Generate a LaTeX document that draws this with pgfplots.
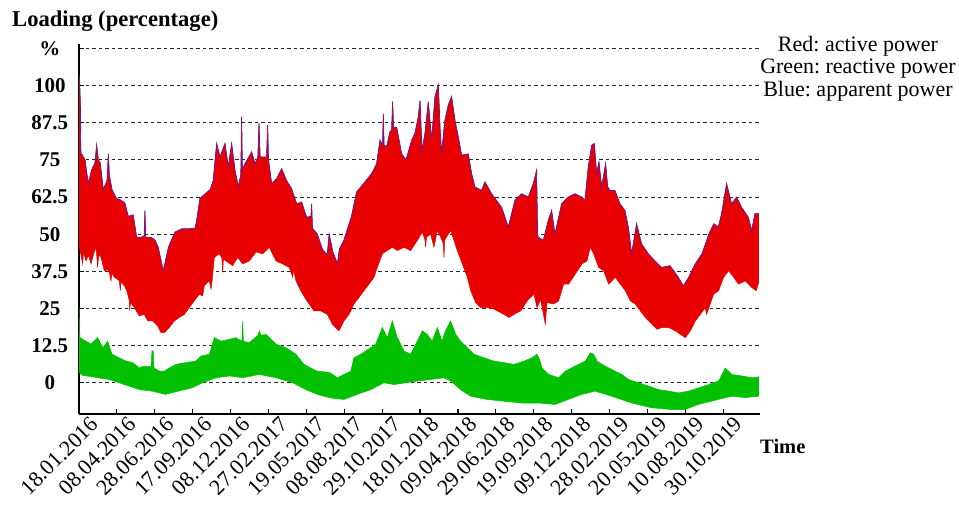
\documentclass[border=0pt]{standalone}
\usepackage{fontspec}
\setmainfont{Liberation Serif}
\usepackage{pgfplots}
\pgfplotsset{compat=1.18}
\usepackage{pgfplotstable}
\usepgfplotslibrary{fillbetween}
\definecolor{redc}{RGB}{232,0,0}
\definecolor{greenc}{RGB}{0,192,0}
\definecolor{bluec}{RGB}{40,40,230}
\frenchspacing

% red (active power) upper envelope
\pgfplotstableread{
x y
0 103.5
0.02 100
0.035 94
0.05 77
0.07 77
0.16 75
0.2 71
0.25 67
0.33 71.5
0.42 74
0.466 80
0.51 75
0.56 74
0.64 65
0.74 68
0.774 77
0.80 70
0.87 65
0.99 62
1.1 61.5
1.21 60.5
1.30 56
1.43 56.5
1.52 49
1.65 49
1.72 49.5
1.74 58
1.76 49
1.90 49
2.005 48
2.09 45.6
2.225 37.7
2.36 45.6
2.53 50.7
2.71 51.8
2.89 51.8
3.06 52
3.105 54.6
3.19 62
3.33 63.6
3.46 65
3.54 68
3.632 80.5
3.72 76
3.852 80.5
3.94 72.6
4.028 80.5
4.116 71.5
4.204 66
4.27 70
4.292 89.5
4.31 72
4.38 73.7
4.556 77.7
4.644 73.7
4.72 76
4.749 87.5
4.78 76
4.864 76
4.95 76
4.978 86.7
5.0 75
5.084 67
5.216 68.7
5.347 72
5.479 68
5.611 65.3
5.743 60.2
5.875 60.8
6.007 55.7
6.12 56
6.139 60.2
6.16 52
6.29 50
6.42 45
6.55 43
6.60 50
6.70 44
6.82 40
6.87 45
6.99 48
7.10 52.4
7.19 56
7.326 64.2
7.546 67.6
7.722 70.4
7.854 73.7
7.942 81.6
8.01 80
8.03 90.6
8.05 80
8.118 79.4
8.206 84.5
8.25 85
8.276 94.6
8.30 86
8.382 86
8.514 77
8.63 75
8.778 81.6
8.865 84
8.953 89.5
9.0 95
9.05 78
9.13 84
9.217 94.6
9.305 81.6
9.393 96.3
9.481 100.2
9.53 85
9.569 77
9.65 88
9.745 93.5
9.832 96.3
9.92 88.4
10.008 82.8
10.096 76.6
10.272 77
10.36 70.4
10.448 65.9
10.624 64.7
10.712 67.6
10.888 63.6
11.152 59
11.328 52.4
11.504 61.4
11.68 63.6
11.855 62.5
11.987 67
12.075 71.5
12.10 50
12.119 49
12.251 47.9
12.383 54.6
12.471 58
12.559 50
12.735 60.2
12.911 62.5
13.087 63.6
13.263 62.5
13.351 61.4
13.439 72.6
13.527 79.9
13.597 80.5
13.659 70.4
13.72 74.3
13.791 65.9
13.896 73.7
13.95 66
14.011 64.7
14.143 64.7
14.274 60.2
14.406 58
14.5 52
14.582 43.4
14.714 53.5
14.846 46.7
15.022 43.4
15.198 41
15.374 38.8
15.594 39.4
15.814 35.5
15.945 32.6
16.09 35.5
16.26 40
16.44 43.4
16.62 50
16.75 53.5
16.869 52.4
16.957 56.9
17.089 67
17.221 60.2
17.353 62.5
17.485 59
17.661 55.7
17.749 51.2
17.837 56.9
17.942 56.9
}\redup

% red lower envelope
\pgfplotstableread{
x y
0 45.6
0.01 45.6
0.097 40
0.12 44
0.185 41
0.25 43
0.317 40
0.40 44
0.449 45.6
0.493 38.8
0.52 43
0.58 42.2
0.668 37.7
0.75 38
0.8 37.2
0.844 34.3
0.87 37
0.932 35.5
1.0 35
1.064 34.3
1.09 31
1.11 34
1.196 32.7
1.26 31
1.328 27.6
1.34 24.2
1.36 27
1.46 25.3
1.592 22.5
1.724 23
1.812 20.8
1.944 20.8
2.076 19.1
2.164 16.9
2.252 16.9
2.383 18.6
2.515 20.8
2.647 22
2.779 23
2.911 25.3
3.043 27.6
3.175 29.8
3.263 29.2
3.307 32.7
3.439 34.3
3.483 31.5
3.51 34
3.571 42.2
3.703 43.4
3.77 42
3.79 37.2
3.81 41.5
3.879 41
4.054 39.4
4.186 42.2
4.318 40
4.494 41
4.67 44
4.846 43.4
5.022 45.6
5.198 41
5.374 40
5.55 38.8
5.638 35.5
5.66 38
5.726 34.3
5.85 31
5.99 28
6.2 24.2
6.377 24.2
6.553 23
6.685 19.7
6.817 18
6.86 17.5
6.992 20.8
7.124 23
7.256 26.5
7.388 28.7
7.52 31
7.652 33.2
7.784 35.5
7.872 38.8
8.004 43.4
8.136 44.5
8.268 45.6
8.4 44.5
8.576 45.6
8.751 44.5
8.927 47.9
9.059 50.7
9.13 48
9.147 45.6
9.17 49
9.279 50
9.367 45.6
9.455 51.2
9.543 49
9.61 47
9.631 42.2
9.65 48
9.719 49.5
9.807 51.2
9.895 47.9
9.983 44.5
10.115 40
10.247 35.5
10.335 31
10.466 27
10.598 25.3
10.774 25.3
10.95 24.8
11.214 23
11.346 22
11.478 23
11.654 24.2
11.83 27.6
12.006 29.8
12.085 25.3
12.18 28
12.305 19.7
12.35 27
12.525 26.5
12.657 27.6
12.789 33.2
12.92 33.2
13.096 36.6
13.272 40
13.404 41
13.492 45.6
13.58 43.4
13.712 38.8
13.844 37.7
13.976 33.2
14.152 35.5
14.284 33.2
14.416 31
14.548 27.6
14.68 26.5
14.812 24.2
14.943 22
15.12 19.7
15.251 18
15.383 18.6
15.559 18.6
15.735 17.5
15.867 16.3
15.999 15.2
16.131 17.5
16.263 20.8
16.395 23
16.526 25.3
16.56 23
16.746 29.8
16.878 31
17.01 35.5
17.142 37.7
17.274 35.5
17.406 33.2
17.582 34.3
17.758 32
17.87 31
17.942 34
}\redlow

% green (reactive power) upper envelope
\pgfplotstableread{
x y
0 25.3
0.013 18
0.026 15.2
0.185 14
0.317 13
0.493 15.2
0.63 11.8
0.756 14
0.87 9.6
1.064 8.4
1.24 7.3
1.42 6.8
1.592 5
1.68 5.5
1.90 5.5
1.925 10.7
1.96 10.7
1.98 5
2.12 3.9
2.252 3.9
2.383 5
2.56 6.2
2.82 6.8
3.087 7.3
3.22 9
3.44 9.6
3.571 15.2
3.75 14
3.92 14.5
4.14 15.2
4.30 14
4.318 20.8
4.34 14
4.494 13.5
4.72 16
4.76 17.5
4.80 16
4.934 16.3
5.198 13
5.46 11.8
5.726 9.6
5.937 6.2
6.113 5
6.29 3.9
6.6 3.5
6.69 2.8
6.817 1.7
6.99 2.8
7.17 3.9
7.256 8.4
7.432 9.6
7.696 11.8
7.828 13
8.004 18.6
8.136 15.2
8.268 20.8
8.4 15.2
8.576 10.7
8.751 9.6
8.927 14
9.059 17.5
9.19 16.3
9.32 14
9.455 18.6
9.58 14
9.67 17.5
9.807 20.8
9.94 16.3
10.07 14
10.247 11.8
10.423 9.6
10.686 8.4
10.95 7.3
11.214 6.8
11.478 6.2
11.742 7.3
11.953 8.4
12.085 9.6
12.15 8
12.22 5
12.393 2.8
12.657 1.7
12.833 3.9
13.0 5
13.184 6.2
13.36 7.3
13.492 10.1
13.58 9.6
13.67 7.3
13.8 6.2
13.976 5
14.152 3.9
14.328 2.8
14.504 1.1
14.767 0
15.031 -1.1
15.295 -2.3
15.559 -2.8
15.823 -3.4
16.087 -2.8
16.35 -1.7
16.614 -0.6
16.878 0.6
17.054 5
17.23 2.8
17.494 2.3
17.758 1.7
17.942 2
}\greenup

% green lower envelope
\pgfplotstableread{
x y
0 3.5
0.1 2.5
0.5 1.7
0.8 1.1
1.2 -0.6
1.6 -2.3
1.93 -2.8
2.28 -3.9
2.63 -2.8
2.98 -1.7
3.26 0
3.61 1.7
3.97 2.3
4.32 1.7
4.76 2.8
5.2 1.7
5.64 0
5.99 -2.3
6.29 -3.9
6.64 -5.1
6.99 -5.6
7.34 -3.9
7.70 -2.3
8.05 0
8.31 -0.6
8.93 0.6
9.28 1.1
9.63 1.7
9.81 0.6
10.07 -2.3
10.33 -4.5
10.77 -5.6
11.21 -6.2
11.68 -6.8
12.119 -6.8
12.559 -7.3
12.911 -5.6
13.263 -3.9
13.438 -3.4
13.615 -2.8
14.055 -4.5
14.582 -6.8
15.11 -8.4
15.638 -9
15.99 -9
16.341 -7.3
16.869 -5.6
17.221 -4.5
17.573 -5
17.942 -4.5
}\greenlow

\begin{document}
\begin{tikzpicture}
\begin{axis}[
  at={(79pt,90pt)}, anchor=south west,
  scale only axis, width=681pt, height=370pt,
  xmin=0, xmax=17.97, ymin=-10.5, ymax=114,
  axis x line*=bottom, axis y line*=left,
  axis line style={line width=2pt, black},
  tick align=inside, major tick length=5pt,
  tick style={black, line width=1.2pt},
  ytick={0,12.5,25,37.5,50,62.5,75,87.5,100,112.5},
  yticklabels={0,12.5,25,37.5,50,62.5,75,87.5,100,\%},
  xtick={0,1,...,17},
  xticklabels={18.01.2016,08.04.2016,28.06.2016,17.09.2016,08.12.2016,27.02.2017,19.05.2017,08.08.2017,29.10.2017,18.01.2018,09.04.2018,29.06.2018,19.09.2018,09.12.2018,28.02.2019,20.05.2019,10.08.2019,30.10.2019},
  /pgf/number format/assume math mode=true,
  yticklabel style={font=\fontsize{21}{24}\selectfont\bfseries, text width=54pt, align=center, inner sep=2pt},
  xticklabel style={font=\fontsize{22}{24}\selectfont, inner sep=1pt, xshift=10pt, rotate=45, anchor=north east},
  ymajorgrids, xmajorgrids=false,
  major grid style={black!85, line width=0.9pt, dash pattern=on 3.5pt off 3pt},
]
\addplot[draw=none, name path=ru] table {\redup};
\addplot[draw=none, name path=rl] table {\redlow};
\addplot[draw=none, name path=gu] table {\greenup};
\addplot[draw=none, name path=gl] table {\greenlow};
% apparent power (blue) just above the active power envelope
\addplot[bluec, line width=0.8pt] table {\redup};
\addplot[fill=redc, draw=none] fill between[of=ru and rl];
\addplot[redc, line width=0.3pt] table {\redup};
\addplot[redc, line width=0.5pt] table {\redlow};
\addplot[fill=greenc, draw=none] fill between[of=gu and gl];
\addplot[greenc, line width=0.5pt] table {\greenup};
\addplot[greenc, line width=0.5pt] table {\greenlow};
\end{axis}
\node[anchor=base west, inner sep=0pt, font=\fontsize{22.6}{25}\selectfont\bfseries] at (12pt,477pt) {Loading (percentage)};
\node[anchor=base, inner sep=0pt, font=\fontsize{22}{24}\selectfont] at (858pt,452pt) {Red: active power};
\node[anchor=base, inner sep=0pt, font=\fontsize{22}{24}\selectfont] at (858pt,430pt) {Green: reactive power};
\node[anchor=base, inner sep=0pt, font=\fontsize{22}{24}\selectfont] at (858pt,407pt) {Blue: apparent power};
\node[anchor=base west, inner sep=0pt, font=\fontsize{20.5}{24}\selectfont\bfseries] at (760pt,51pt) {Time};
\pgfresetboundingbox
\path[use as bounding box] (0pt,0pt) rectangle (959pt,504pt);
\end{tikzpicture}
\end{document}
